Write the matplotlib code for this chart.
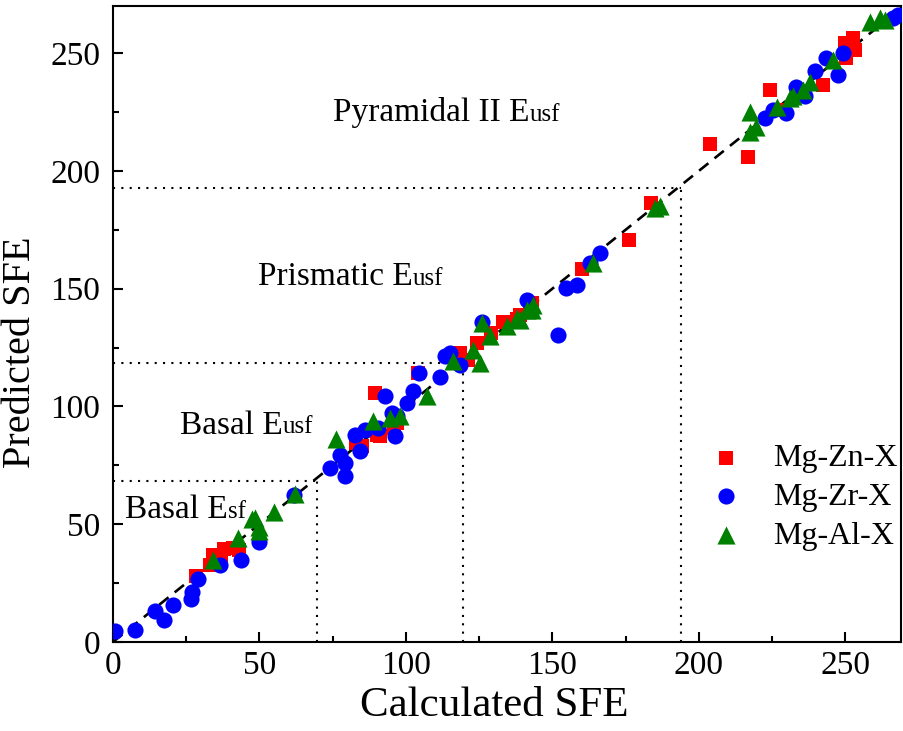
import matplotlib
matplotlib.use("Agg")
import matplotlib.pyplot as plt
from matplotlib.ticker import MultipleLocator

plt.rcParams["font.family"] = ["Liberation Serif", "DejaVu Serif"]

# Mg-Zn-X (red squares)
zn_calc = [28.5, 33, 34, 37, 38, 41, 43, 83, 85, 90, 91, 89.5, 96, 97,
           104.2, 118.4, 121.3, 124.1, 129.2, 133.2, 134.4, 139, 138, 142.5, 143,
           160, 176.2, 183.8, 203.7, 216.8, 224.4, 228.7, 242.4, 249.8, 252.6,
           253.2, 250.3]
zn_pred = [28, 32.5, 37, 36, 39.5, 40, 39, 84.5, 83, 88, 87.3, 105.7, 91, 93,
           114.2, 122.7, 119.8, 126.9, 131, 136, 136, 139, 137, 143, 144,
           158.3, 170.8, 186.3, 211.5, 206.1, 234.4, 225.9, 236.5, 254.2, 256.4,
           251.4, 247.9]

# Mg-Zr-X (blue circles)
zr_calc = [0.8, 7.4, 14.4, 17.5, 20.5, 26.6, 26.9, 29, 36.6, 43.8, 50, 61.9,
           74.1, 79.2, 79.2, 77.5, 84.3, 82.6, 86, 90.6, 92.9, 95.2, 96.3, 97,
           100.3, 102.5, 104.5, 111.6, 113.3, 115, 118.4, 125.8, 141.2, 152,
           154.8, 158.3, 162.8, 166.2, 222.5, 225.3, 229.9, 233.3, 236.1, 239.5,
           243.5, 247.5, 249.2, 266.2, 268]
zr_pred = [4.5, 5.2, 13.3, 9.5, 15.8, 18.4, 21.2, 26.9, 32.8, 34.9, 42.3, 62.5,
           73.8, 70.3, 75.8, 79.5, 80.9, 88, 90.1, 90.8, 104.3, 97.2, 87.3, 96,
           101.4, 106.4, 114, 112.7, 121.2, 122.7, 117.7, 136, 145.3, 130.4,
           150.2, 151.7, 160.9, 165.1, 222.4, 225.9, 224.5, 235.8, 231.6, 242.2,
           247.9, 240.8, 250, 264.9, 266.3]

# Mg-Al-X (green triangles)
al_calc = [34, 42.5, 47.4, 48.5, 49.8, 50, 54.9, 62, 76.2, 88.9, 94.5, 98,
           107.1, 116.2, 123, 125.3, 125.8, 128.7, 134.4, 137.8, 138.9, 141.2,
           142.9, 143.5, 163.9, 185, 186.7, 217.4, 217.4, 219.6, 226.5, 231, 232,
           235.5, 237.8, 245.8, 258.3, 261.7, 263.4]
al_pred = [35, 44.1, 52, 52.6, 49, 47, 55, 63, 86.2, 93.6, 95, 95.8,
           104.3, 119.1, 124, 118.4, 135.4, 129.7, 134, 137.5, 136.8, 141,
           141, 143.2, 160.9, 184.2, 184.9, 225.2, 216.7, 218.8, 227.3, 230.9, 232,
           234.4, 237.9, 247.2, 263.4, 264.9, 264.1]

# region boundaries (corner on the diagonal)
bound_x = [69.5, 119.5, 193.8]
bound_y = [68.5, 118.6, 192.8]

# region labels: (x, baseline y, main text, small part)
regions = [
    (75.1, 221.0, "Pyramidal II E", "usf"),
    (49.6, 151.5, "Prismatic E", "usf"),
    (22.8, 88.5, "Basal E", "usf"),
    (4.2, 52.6, "Basal E", "sf"),
]

fig = plt.figure(figsize=(9.04, 7.31), dpi=100)
ax = fig.add_axes([0.125, 0.1218, 0.8717, 0.870])

ax.plot([0, 270], [0, 270], color="black", lw=1.9, dashes=(4.5, 3), zorder=1)
for bx, by in zip(bound_x, bound_y):
    ax.plot([0, bx], [by, by], color="black", lw=1.5, ls=(0, (1, 3)), zorder=1)
    ax.plot([bx, bx], [0, by], color="black", lw=1.5, ls=(0, (1, 3)), zorder=1)

ax.scatter(zn_calc, zn_pred, marker="s", s=100, color="#ff0000", lw=0, label="Mg-Zn-X", zorder=2)
ax.scatter(zr_calc, zr_pred, marker="o", s=135, color="#0000ff", lw=0, label="Mg-Zr-X", zorder=3)
ax.scatter(al_calc, al_pred, marker="^", s=170, color="#008000", lw=0, label="Mg-Al-X", zorder=4)

for x, y, main, small in regions:
    t = ax.text(x, y, main, fontsize=24, va="baseline", ha="left")
    ax.annotate(small, xy=(1, 0), xycoords=t, xytext=(0, 1.5),
                textcoords="offset points", fontsize=18, va="bottom", ha="left")

ax.set_xlim(0, 269)
ax.set_ylim(0, 270)
ax.xaxis.set_major_locator(MultipleLocator(50))
ax.xaxis.set_minor_locator(MultipleLocator(25))
ax.yaxis.set_major_locator(MultipleLocator(50))
ax.yaxis.set_minor_locator(MultipleLocator(25))
ax.tick_params(which="both", direction="in", top=False, right=False, width=1.5)
ax.tick_params(which="major", length=7, labelsize=24)
ax.tick_params(which="minor", length=4)
ax.tick_params(axis="x", which="major", pad=6)
ax.tick_params(axis="y", which="major", pad=9)
for sp in ax.spines.values():
    sp.set_linewidth(1.5)

ax.set_xlabel("Calculated SFE", fontsize=31)
ax.set_ylabel("Predicted SFE", fontsize=29)
ax.xaxis.set_label_coords(0.484, -0.070)
ax.yaxis.set_label_coords(-0.094, 0.456)

ax.legend(loc="upper left", bbox_to_anchor=(0.757, 0.312), frameon=False,
          fontsize=23, handlelength=1.0, handletextpad=1.0, labelspacing=0.3,
          borderpad=0, borderaxespad=0, scatterpoints=1)

fig.savefig("out.png", dpi=100)
